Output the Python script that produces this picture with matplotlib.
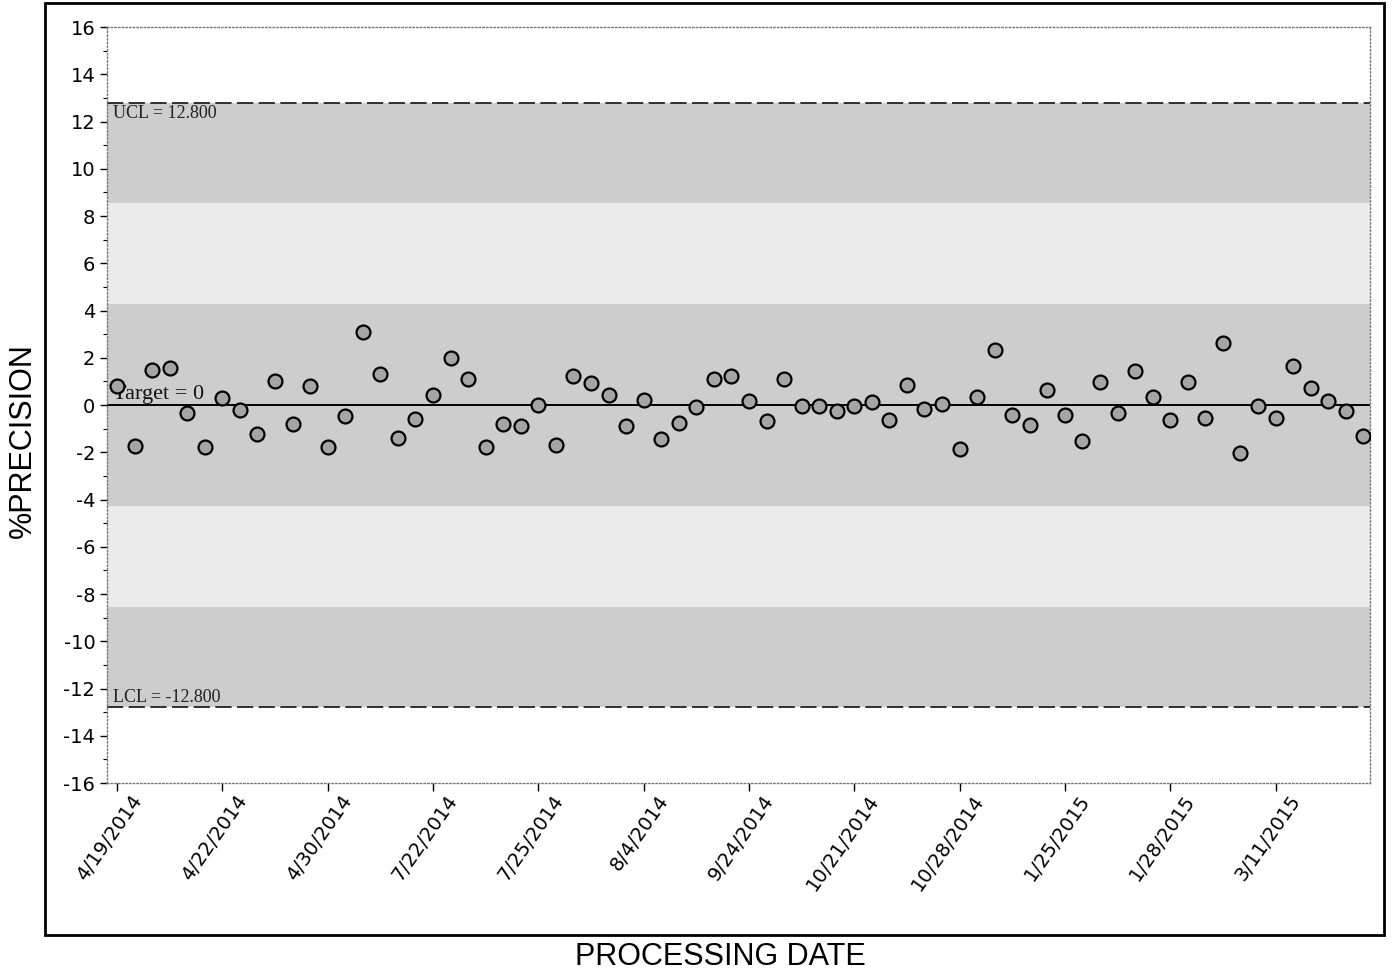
import numpy as np
import matplotlib.pyplot as plt
from matplotlib.patches import Rectangle
from matplotlib.ticker import MultipleLocator
from matplotlib.transforms import ScaledTranslation

plt.rcParams['axes.unicode_minus'] = False

# %PRECISION per run, in processing order
precision = [
    0.79, -1.72, 1.50, 1.57, -0.34, -1.78, 0.30, -0.21, -1.21, 1.00,
    -0.79, 0.79, -1.78, -0.48, 3.09, 1.30, -1.38, -0.58, 0.41, 2.01,
    1.09, -1.78, -0.79, -0.89, -0.01, -1.68, 1.21, 0.93, 0.44, -0.89,
    0.23, -1.45, -0.76, -0.08, 1.10, 1.21, 0.16, -0.68, 1.12, -0.06,
    -0.06, -0.27, -0.06, 0.13, -0.65, 0.86, -0.15, 0.03, -1.88, 0.34,
    2.34, -0.44, -0.86, 0.65, -0.44, -1.52, 0.97, -0.34, 1.44, 0.34,
    -0.65, 0.97, -0.53, 2.64, -2.03, -0.06, -0.53, 1.64, 0.74, 0.17,
    -0.25, -1.32,
]
tick_labels = ["4/19/2014", "4/22/2014", "4/30/2014", "7/22/2014", "7/25/2014",
               "8/4/2014", "9/24/2014", "10/21/2014", "10/28/2014", "1/25/2015",
               "1/28/2015", "3/11/2015"]
label_step = 6
ucl = 12.8
lcl = -12.8
target = 0.0

n = len(precision)
x = np.arange(n)
sigma = (ucl - target) / 3.0

fig = plt.figure(figsize=(13.94, 9.76), dpi=100)
ax = fig.add_axes([0.0768, 0.1977, 0.9062, 0.7746])

# zone shading between the limits (A and C darker, B lighter)
dark, light = "#cdcdcd", "#ebebeb"
ax.axhspan(target + 2 * sigma, ucl, color=dark, lw=0, zorder=0)
ax.axhspan(target + sigma, target + 2 * sigma, color=light, lw=0, zorder=0)
ax.axhspan(target - sigma, target + sigma, color=dark, lw=0, zorder=0)
ax.axhspan(target - 2 * sigma, target - sigma, color=light, lw=0, zorder=0)
ax.axhspan(lcl, target - 2 * sigma, color=dark, lw=0, zorder=0)

ax.axhline(ucl, color="#222222", lw=1.3, ls=(0, (9, 3)), zorder=1)
ax.axhline(lcl, color="#222222", lw=1.3, ls=(0, (9, 3)), zorder=1)
ax.axhline(target, color="black", lw=1.4, zorder=1)

ax.plot(x, precision, ls="none", marker="o", ms=10,
        mfc="#a5a5a5", mec="black", mew=1.6, zorder=3)

ax.annotate(f"UCL = {ucl:.3f}", (0, ucl), xycoords=("axes fraction", "data"),
            xytext=(4, -2), textcoords="offset points", ha="left", va="top",
            fontsize=13, family="Liberation Serif", color="#222222")
ax.annotate(f"LCL = {lcl:.3f}", (0, lcl), xycoords=("axes fraction", "data"),
            xytext=(4, 1), textcoords="offset points", ha="left", va="bottom",
            fontsize=13, family="Liberation Serif", color="#222222")
ax.annotate(f"Target = {target:g}", (0, target), xycoords=("axes fraction", "data"),
            xytext=(4, 1), textcoords="offset points", ha="left", va="bottom",
            fontsize=16, family="Liberation Serif", color="#111111", zorder=2)

ax.set_xlim(-0.57, n - 0.6)
ax.set_ylim(-16, 16)
ax.yaxis.set_major_locator(MultipleLocator(2))
ax.yaxis.set_minor_locator(MultipleLocator(1))
ax.tick_params(axis="y", which="major", labelsize=14, length=5, width=1)
ax.tick_params(axis="y", which="minor", length=3, width=0.8)
ax.tick_params(axis="x", length=6, width=1, pad=6)
ax.set_xticks(x[::label_step][:len(tick_labels)])
ax.set_xticklabels(tick_labels, rotation=55, ha="right", va="top",
                   rotation_mode="anchor", fontsize=14)
# nudge the rotated date labels so their ends sit just right of the tick
shift = ScaledTranslation(13 / 100, 8 / 100, fig.dpi_scale_trans)
for tk in ax.xaxis.get_major_ticks():
    tk.label1.set_transform(tk.label1.get_transform() + shift)

for sp in ax.spines.values():
    sp.set_linestyle(":")
    sp.set_color("#777777")
    sp.set_linewidth(1.0)

# outer frame round the plot
fig.add_artist(Rectangle((0.0323, 0.042), 0.9605, 0.955, transform=fig.transFigure,
                         fill=False, ec="black", lw=2))

fig.text(0.0165, 0.549, "%PRECISION", rotation=90, ha="center", va="center",
         fontsize=22, family="Liberation Sans")
fig.text(0.5165, 0.0195, "PROCESSING DATE", ha="center", va="center",
         fontsize=22, family="Liberation Sans")

fig.savefig("out.png", dpi=100)
